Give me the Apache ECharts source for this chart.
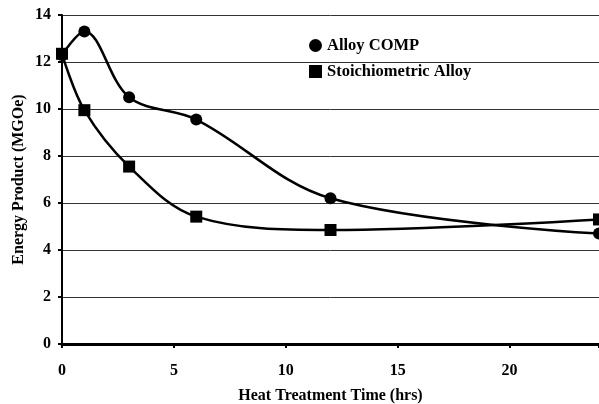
<!DOCTYPE html>
<html><head><meta charset="utf-8">
<script src="https://cdn.jsdelivr.net/npm/echarts@6/dist/echarts.min.js"></script>
<style>html,body{margin:0;padding:0;background:#fff}#c{width:599px;height:404px}</style>
</head><body><div id="c"></div>
<script>
const hours = [0, 1, 3, 6, 12, 24];
const alloyComp = [12.3, 13.3, 10.5, 9.55, 6.2, 4.7];
const stoichAlloy = [12.35, 9.95, 7.55, 5.42, 4.85, 5.3];
const seriesNames = ['Alloy COMP', 'Stoichiometric Alloy'];
const xTitle = 'Heat Treatment Time (hrs)';
const yTitle = 'Energy Product (MGOe)';

const font = 'Liberation Serif, Times New Roman, serif';
const pair = (xs, ys) => xs.map((x, i) => [x, ys[i]]);
const chart = echarts.init(document.getElementById('c'), null, {renderer: 'canvas'});
chart.setOption({
  animation: false,
  backgroundColor: '#fff',
  grid: {left: 62, right: 0, top: 15, bottom: 60, containLabel: false, outerBoundsMode: 'none'},
  legend: {
    left: 309, top: 37, orient: 'vertical', itemGap: 9, padding: 0,
    itemWidth: 13, itemHeight: 13,
    textStyle: {fontFamily: font, fontWeight: 'bold', fontSize: 16.5, color: '#000'},
    data: [{name: seriesNames[0], icon: 'circle'}, {name: seriesNames[1], icon: 'rect'}]
  },
  xAxis: {
    type: 'value', min: 0, max: 24, interval: 5,
    name: xTitle, nameLocation: 'middle', nameGap: 44,
    nameTextStyle: {fontFamily: font, fontWeight: 'bold', fontSize: 16, color: '#000'},
    axisLine: {lineStyle: {color: '#000', width: 3}},
    axisTick: {show: true, length: 4, lineStyle: {color: '#000', width: 2}},
    axisLabel: {fontFamily: font, fontWeight: 'bold', fontSize: 16, color: '#000', margin: 19,
      formatter: v => (v % 5 === 0 ? String(v) : '')},
    splitLine: {show: false}
  },
  yAxis: {
    type: 'value', min: 0, max: 14, interval: 2,
    name: yTitle, nameLocation: 'middle', nameGap: 35, nameMoveOverlap: false,
    nameTextStyle: {fontFamily: font, fontWeight: 'bold', fontSize: 16, color: '#000'},
    axisLine: {show: true, lineStyle: {color: '#000', width: 2}},
    axisTick: {show: true, length: 4, lineStyle: {color: '#000', width: 2}},
    axisLabel: {fontFamily: font, fontWeight: 'bold', fontSize: 16, color: '#000', margin: 11},
    splitLine: {show: true, lineStyle: {color: '#333', width: 1}}
  },
  series: [
    {name: seriesNames[0], type: 'line', data: pair(hours, alloyComp), smooth: 0.35,
     symbol: 'circle', symbolSize: 12, itemStyle: {color: '#000'},
     lineStyle: {color: '#000', width: 2.5}},
    {name: seriesNames[1], type: 'line', data: pair(hours, stoichAlloy), smooth: 0.35,
     symbol: 'rect', symbolSize: 12, itemStyle: {color: '#000'},
     lineStyle: {color: '#000', width: 2.5}}
  ]
});
</script></body></html>
